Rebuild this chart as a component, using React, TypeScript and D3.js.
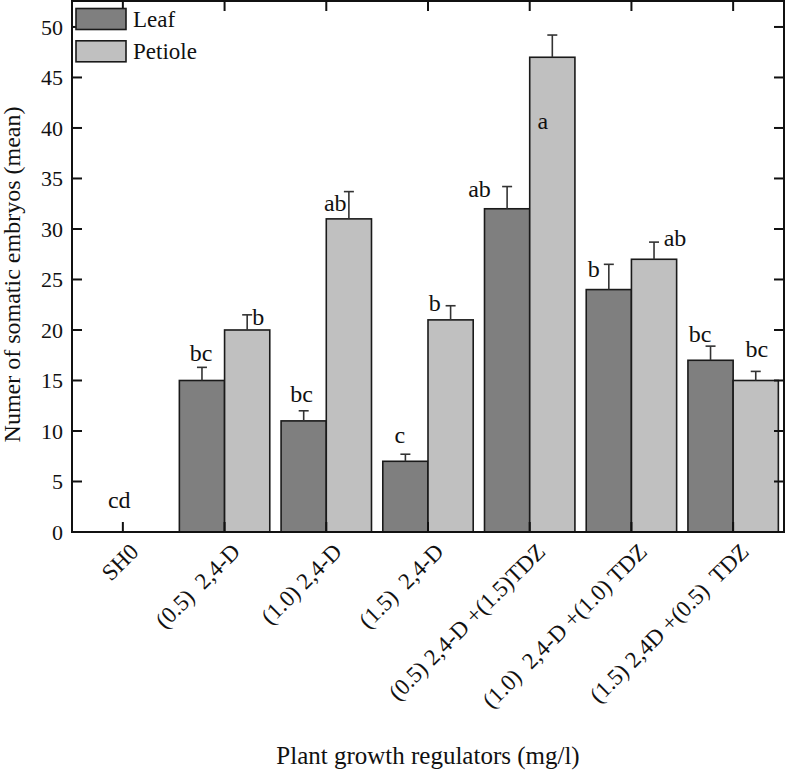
import React from "react";
import * as d3 from "d3";

const categories = [
  "SH0",
  "(0.5)  2,4-D",
  "(1.0) 2,4-D",
  "(1.5)  2,4-D",
  "(0.5) 2,4-D +(1.5)TDZ",
  "(1.0)  2,4-D +(1.0) TDZ",
  "(1.5) 2,4D +(0.5)  TDZ",
];
const seriesNames = ["Leaf", "Petiole"];
const leafValues = [0, 15, 11, 7, 32, 24, 17];
const petioleValues = [0, 20, 31, 21, 47, 27, 15];
const leafErrors = [0, 1.3, 1.0, 0.7, 2.2, 2.5, 1.4];
const petioleErrors = [0, 1.5, 2.7, 1.4, 2.2, 1.7, 0.9];
const leafLetters = ["cd", "bc", "bc", "c", "ab", "b", "bc"];
const petioleLetters = ["", "b", "ab", "b", "a", "ab", "bc"];
const yTicks = [0, 5, 10, 15, 20, 25, 30, 35, 40, 45, 50];

// layout (pixel offsets of the significance letters relative to bar centre / error-bar top)
const leafLetterOffsets = [
  [19, -24], [-1, -6], [-2, -8.5], [-5.6, -11.5], [-27.6, 10], [-15, 12.4], [-10.5, -4.5],
];
const petioleLetterOffsets = [
  [0, 0], [11, 10], [-13.6, 19], [-15.8, 5], [-9.5, 94], [21, 4], [1.2, -14.7],
];

const W = 786;
const H = 772;
const M = { left: 72, right: 784, top: 1, bottom: 532 };
const colors = ["#7f7f7f", "#c0c0c0"];
const FONT = "'Liberation Serif', 'Times New Roman', serif";

export default function App() {
  const x = d3.scaleBand<string>().domain(categories).range([M.left, M.right]).padding(0);
  const inner = d3
    .scaleBand<string>()
    .domain(seriesNames)
    .range([0, x.bandwidth()])
    .paddingOuter(0.125)
    .paddingInner(0);
  const y = d3.scaleLinear().domain([0, 52.57]).range([M.bottom, M.top]);

  const series = [
    { name: "Leaf", values: leafValues, errors: leafErrors, letters: leafLetters, offs: leafLetterOffsets },
    { name: "Petiole", values: petioleValues, errors: petioleErrors, letters: petioleLetters, offs: petioleLetterOffsets },
  ];

  const tickLen = 10;

  return (
    <svg
      width={W}
      height={H}
      style={{ position: "absolute", left: 0, top: 0, background: "#fff" }}
      fontFamily={FONT}
    >
      <rect x={0} y={0} width={W} height={H} fill="#fff" />
      {/* bars */}
      {series.map((s, si) =>
        categories.map((c, i) => {
          const bx = (x(c) as number) + (inner(s.name) as number);
          const bw = inner.bandwidth();
          const v = s.values[i];
          if (v <= 0) return null;
          return (
            <rect
              key={`b-${si}-${i}`}
              x={bx}
              y={y(v)}
              width={bw}
              height={y(0) - y(v)}
              fill={colors[si]}
              stroke="#1a1a1a"
              strokeWidth={1.6}
            />
          );
        })
      )}
      {/* error bars */}
      {series.map((s, si) =>
        categories.map((c, i) => {
          const e = s.errors[i];
          if (e <= 0) return null;
          const cx = (x(c) as number) + (inner(s.name) as number) + inner.bandwidth() / 2;
          const y0 = y(s.values[i]);
          const y1 = y(s.values[i] + e);
          return (
            <g key={`e-${si}-${i}`} stroke="#333" strokeWidth={1.6}>
              <line x1={cx} x2={cx} y1={y0} y2={y1} />
              <line x1={cx - 5} x2={cx + 5} y1={y1} y2={y1} />
            </g>
          );
        })
      )}
      {/* letters */}
      {series.map((s, si) =>
        categories.map((c, i) => {
          const t = s.letters[i];
          if (!t) return null;
          const cx = (x(c) as number) + (inner(s.name) as number) + inner.bandwidth() / 2;
          const yt = y(s.values[i] + s.errors[i]);
          return (
            <text
              key={`l-${si}-${i}`}
              x={cx + s.offs[i][0]}
              y={yt + s.offs[i][1]}
              textAnchor="middle"
              fontSize={24}
              fill="#111"
            >
              {t}
            </text>
          );
        })
      )}
      {/* frame */}
      <rect
        x={M.left}
        y={M.top}
        width={M.right - M.left}
        height={M.bottom - M.top}
        fill="none"
        stroke="#111"
        strokeWidth={2}
      />
      {/* y ticks left & right */}
      {yTicks.map((t) => (
        <g key={`yt-${t}`}>
          <line x1={M.left} x2={M.left + tickLen} y1={y(t)} y2={y(t)} stroke="#111" strokeWidth={2} />
          <line x1={M.right} x2={M.right - tickLen} y1={y(t)} y2={y(t)} stroke="#111" strokeWidth={2} />
          <text x={M.left - 9} y={y(t)} dy="0.35em" textAnchor="end" fontSize={22} fill="#111">
            {t}
          </text>
        </g>
      ))}
      {/* x ticks top & bottom */}
      {categories.map((c) => {
        const cx = (x(c) as number) + x.bandwidth() / 2;
        return (
          <g key={`xt-${c}`}>
            <line x1={cx} x2={cx} y1={M.bottom} y2={M.bottom - tickLen} stroke="#111" strokeWidth={2} />
            <line x1={cx} x2={cx} y1={M.top} y2={M.top + tickLen} stroke="#111" strokeWidth={2} />
            <text
              transform={`translate(${cx + 17},553) rotate(-45)`}
              textAnchor="end"
              fontSize={23}
              fill="#111"
              style={{ whiteSpace: "pre" }}
            >
              {c}
            </text>
          </g>
        );
      })}
      {/* legend */}
      {seriesNames.map((n, i) => (
        <g key={`lg-${n}`}>
          <rect
            x={76}
            y={8.5 + i * 32.3}
            width={50}
            height={21}
            fill={colors[i]}
            stroke="#1a1a1a"
            strokeWidth={1.6}
          />
          <text x={133} y={27 + i * 32.3} fontSize={23} fill="#111">
            {n}
          </text>
        </g>
      ))}
      {/* axis titles */}
      <text
        transform={`translate(20,${(M.top + M.bottom) / 2 + 8}) rotate(-90)`}
        textAnchor="middle"
        fontSize={24}
        fill="#111"
      >
        Numer of somatic embryos (mean)
      </text>
      <text x={(M.left + M.right) / 2} y={764} textAnchor="middle" fontSize={25} fill="#111">
        Plant growth regulators (mg/l)
      </text>
    </svg>
  );
}
